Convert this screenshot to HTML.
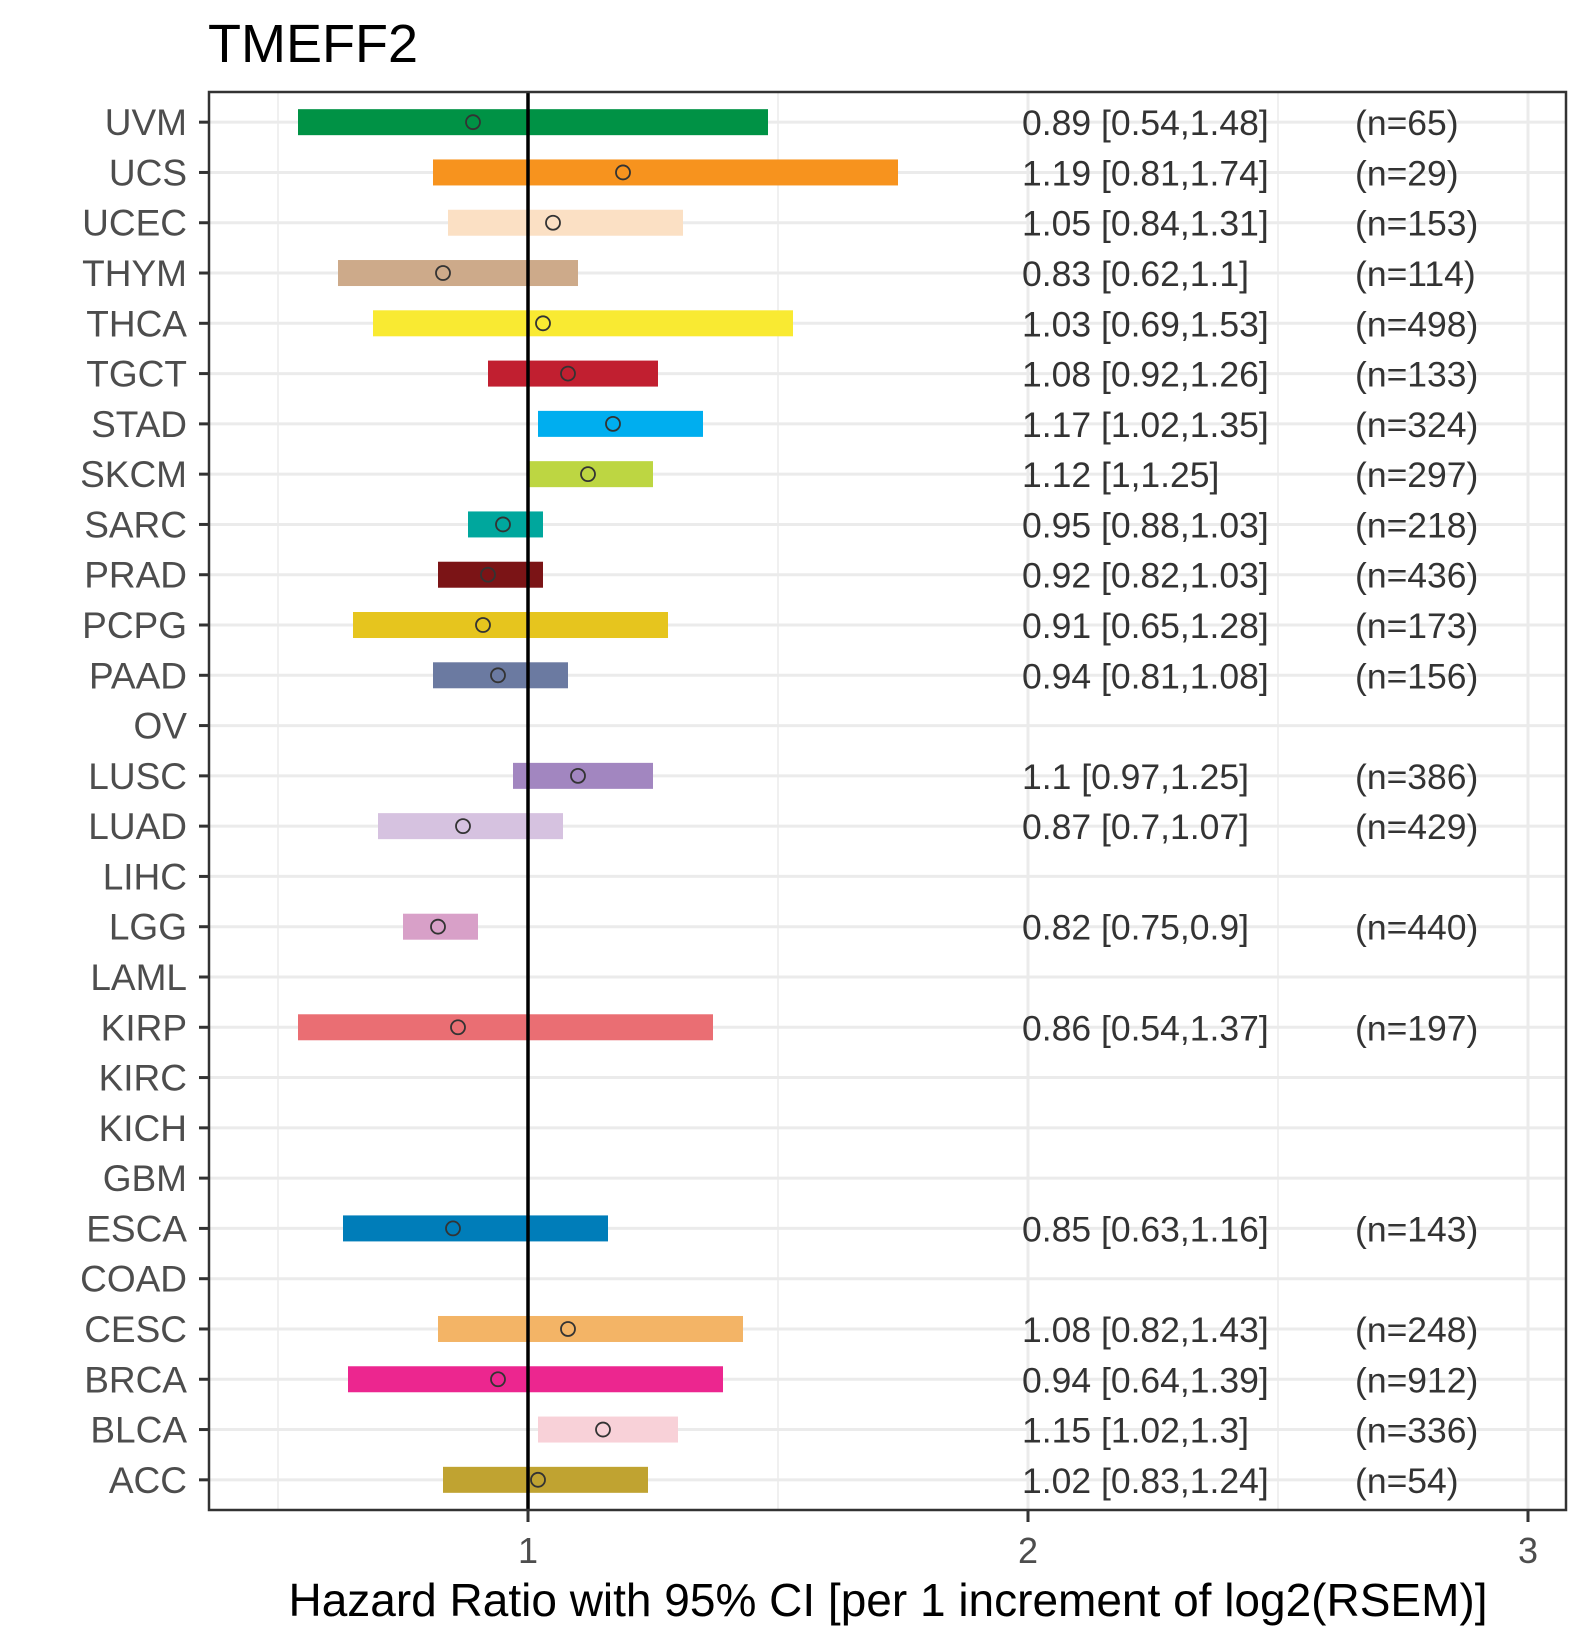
<!DOCTYPE html>
<html><head><meta charset="utf-8"><style>
body{margin:0;background:#fff;}
svg{display:block;font-family:"Liberation Sans",Arial,sans-serif;}
</style></head><body>
<svg id="chart" width="1590" height="1650"></svg>
<script>
const cancers=["UVM","UCS","UCEC","THYM","THCA","TGCT","STAD","SKCM","SARC","PRAD","PCPG","PAAD","OV","LUSC","LUAD","LIHC","LGG","LAML","KIRP","KIRC","KICH","GBM","ESCA","COAD","CESC","BRCA","BLCA","ACC"];
const hr=[0.89,1.19,1.05,0.83,1.03,1.08,1.17,1.12,0.95,0.92,0.91,0.94,null,1.1,0.87,null,0.82,null,0.86,null,null,null,0.85,null,1.08,0.94,1.15,1.02];
const lo=[0.54,0.81,0.84,0.62,0.69,0.92,1.02,1,0.88,0.82,0.65,0.81,null,0.97,0.7,null,0.75,null,0.54,null,null,null,0.63,null,0.82,0.64,1.02,0.83];
const hi=[1.48,1.74,1.31,1.1,1.53,1.26,1.35,1.25,1.03,1.03,1.28,1.08,null,1.25,1.07,null,0.9,null,1.37,null,null,null,1.16,null,1.43,1.39,1.3,1.24];
const nums=[65,29,153,114,498,133,324,297,218,436,173,156,null,386,429,null,440,null,197,null,null,null,143,null,248,912,336,54];
const hrText=["0.89 [0.54,1.48]","1.19 [0.81,1.74]","1.05 [0.84,1.31]","0.83 [0.62,1.1]","1.03 [0.69,1.53]","1.08 [0.92,1.26]","1.17 [1.02,1.35]","1.12 [1,1.25]","0.95 [0.88,1.03]","0.92 [0.82,1.03]","0.91 [0.65,1.28]","0.94 [0.81,1.08]",null,"1.1 [0.97,1.25]","0.87 [0.7,1.07]",null,"0.82 [0.75,0.9]",null,"0.86 [0.54,1.37]",null,null,null,"0.85 [0.63,1.16]",null,"1.08 [0.82,1.43]","0.94 [0.64,1.39]","1.15 [1.02,1.3]","1.02 [0.83,1.24]"];
const colors=["#009245","#F7931E","#FBE0C4","#CDAA8A","#F9EA32","#C11F30","#00AEEF","#BDD642","#00A79D","#7B1416","#E6C51E","#6B7AA1",null,"#A286C0","#D6C2E0",null,"#D8A0C8",null,"#EA6E73",null,null,null,"#007DB9",null,"#F3B466","#EC268F","#F8D1D8","#C0A331"];
const xTicks=[1,2,3];
const xMinor=[0.5,1.5,2.5];

const NS="http://www.w3.org/2000/svg";
const svg=document.getElementById('chart');
const L=209,R=1566,T=92,B=1510;
const xs=v=>528+(v-1)*500;
const step=(B-T)/(cancers.length-1+1.2);
const ys=i=>T+(0.6+i)*step;
function mk(tag,attrs,parent){const e=document.createElementNS(NS,tag);for(const k in attrs)e.setAttribute(k,attrs[k]);(parent||svg).appendChild(e);return e;}

const title=mk('text',{x:208,y:62,'font-size':54,fill:'#000'});title.textContent='TMEFF2';



mk('rect',{x:L,y:T,width:R-L,height:B-T,fill:'#fff'});
xMinor.forEach(v=>{const l=mk('line',{x1:xs(v),x2:xs(v),y1:T,y2:B,stroke:'#ebebeb','stroke-width':1.5});

});
xTicks.forEach(v=>{const l=mk('line',{x1:xs(v),x2:xs(v),y1:T,y2:B,stroke:'#ebebeb','stroke-width':3});

});
cancers.forEach((c,i)=>{const l=mk('line',{x1:L,x2:R,y1:ys(i),y2:ys(i),stroke:'#ebebeb','stroke-width':3});

});

cancers.forEach((c,i)=>{
  const y=ys(i);
  if(hr[i]!=null){
    const b=mk('rect',{x:xs(lo[i]),y:y-13,width:xs(hi[i])-xs(lo[i]),height:26,fill:colors[i]});
    
    
    const t=mk('text',{x:1022,y:y+13,'font-size':35.5,fill:'#333'});t.textContent=hrText[i];
    
    
    const n=mk('text',{x:1355,y:y+13,'font-size':35.5,fill:'#333'});n.textContent='(n='+nums[i]+')';
    
    
  }
  const lab=mk('text',{x:187,y:y+13,'font-size':37,fill:'#4d4d4d','text-anchor':'end'});lab.textContent=c;
  
  
  mk('line',{x1:199,x2:L,y1:y,y2:y,stroke:'#333','stroke-width':3});
});
const vl=mk('line',{x1:xs(1),x2:xs(1),y1:T,y2:B,stroke:'#000','stroke-width':3.5});


cancers.forEach((c,i)=>{
  if(hr[i]!=null){
    const p=mk('circle',{cx:xs(hr[i]),cy:ys(i),r:7,fill:'none',stroke:'#333','stroke-width':1.8});
    
    
  }
});
const fr=mk('rect',{x:L,y:T,width:R-L,height:B-T,fill:'none',stroke:'#333','stroke-width':2.5});


xTicks.forEach(v=>{
  mk('line',{x1:xs(v),x2:xs(v),y1:B,y2:B+12,stroke:'#333','stroke-width':3});
  const t=mk('text',{x:xs(v),y:B+53,'font-size':36,fill:'#4d4d4d','text-anchor':'middle'});t.textContent=v;
  
  
});
const xt=mk('text',{x:888,y:1616,'font-size':46,fill:'#000','text-anchor':'middle'});
xt.textContent='Hazard Ratio with 95% CI [per 1 increment of log2(RSEM)]';


</script>
</body></html>
